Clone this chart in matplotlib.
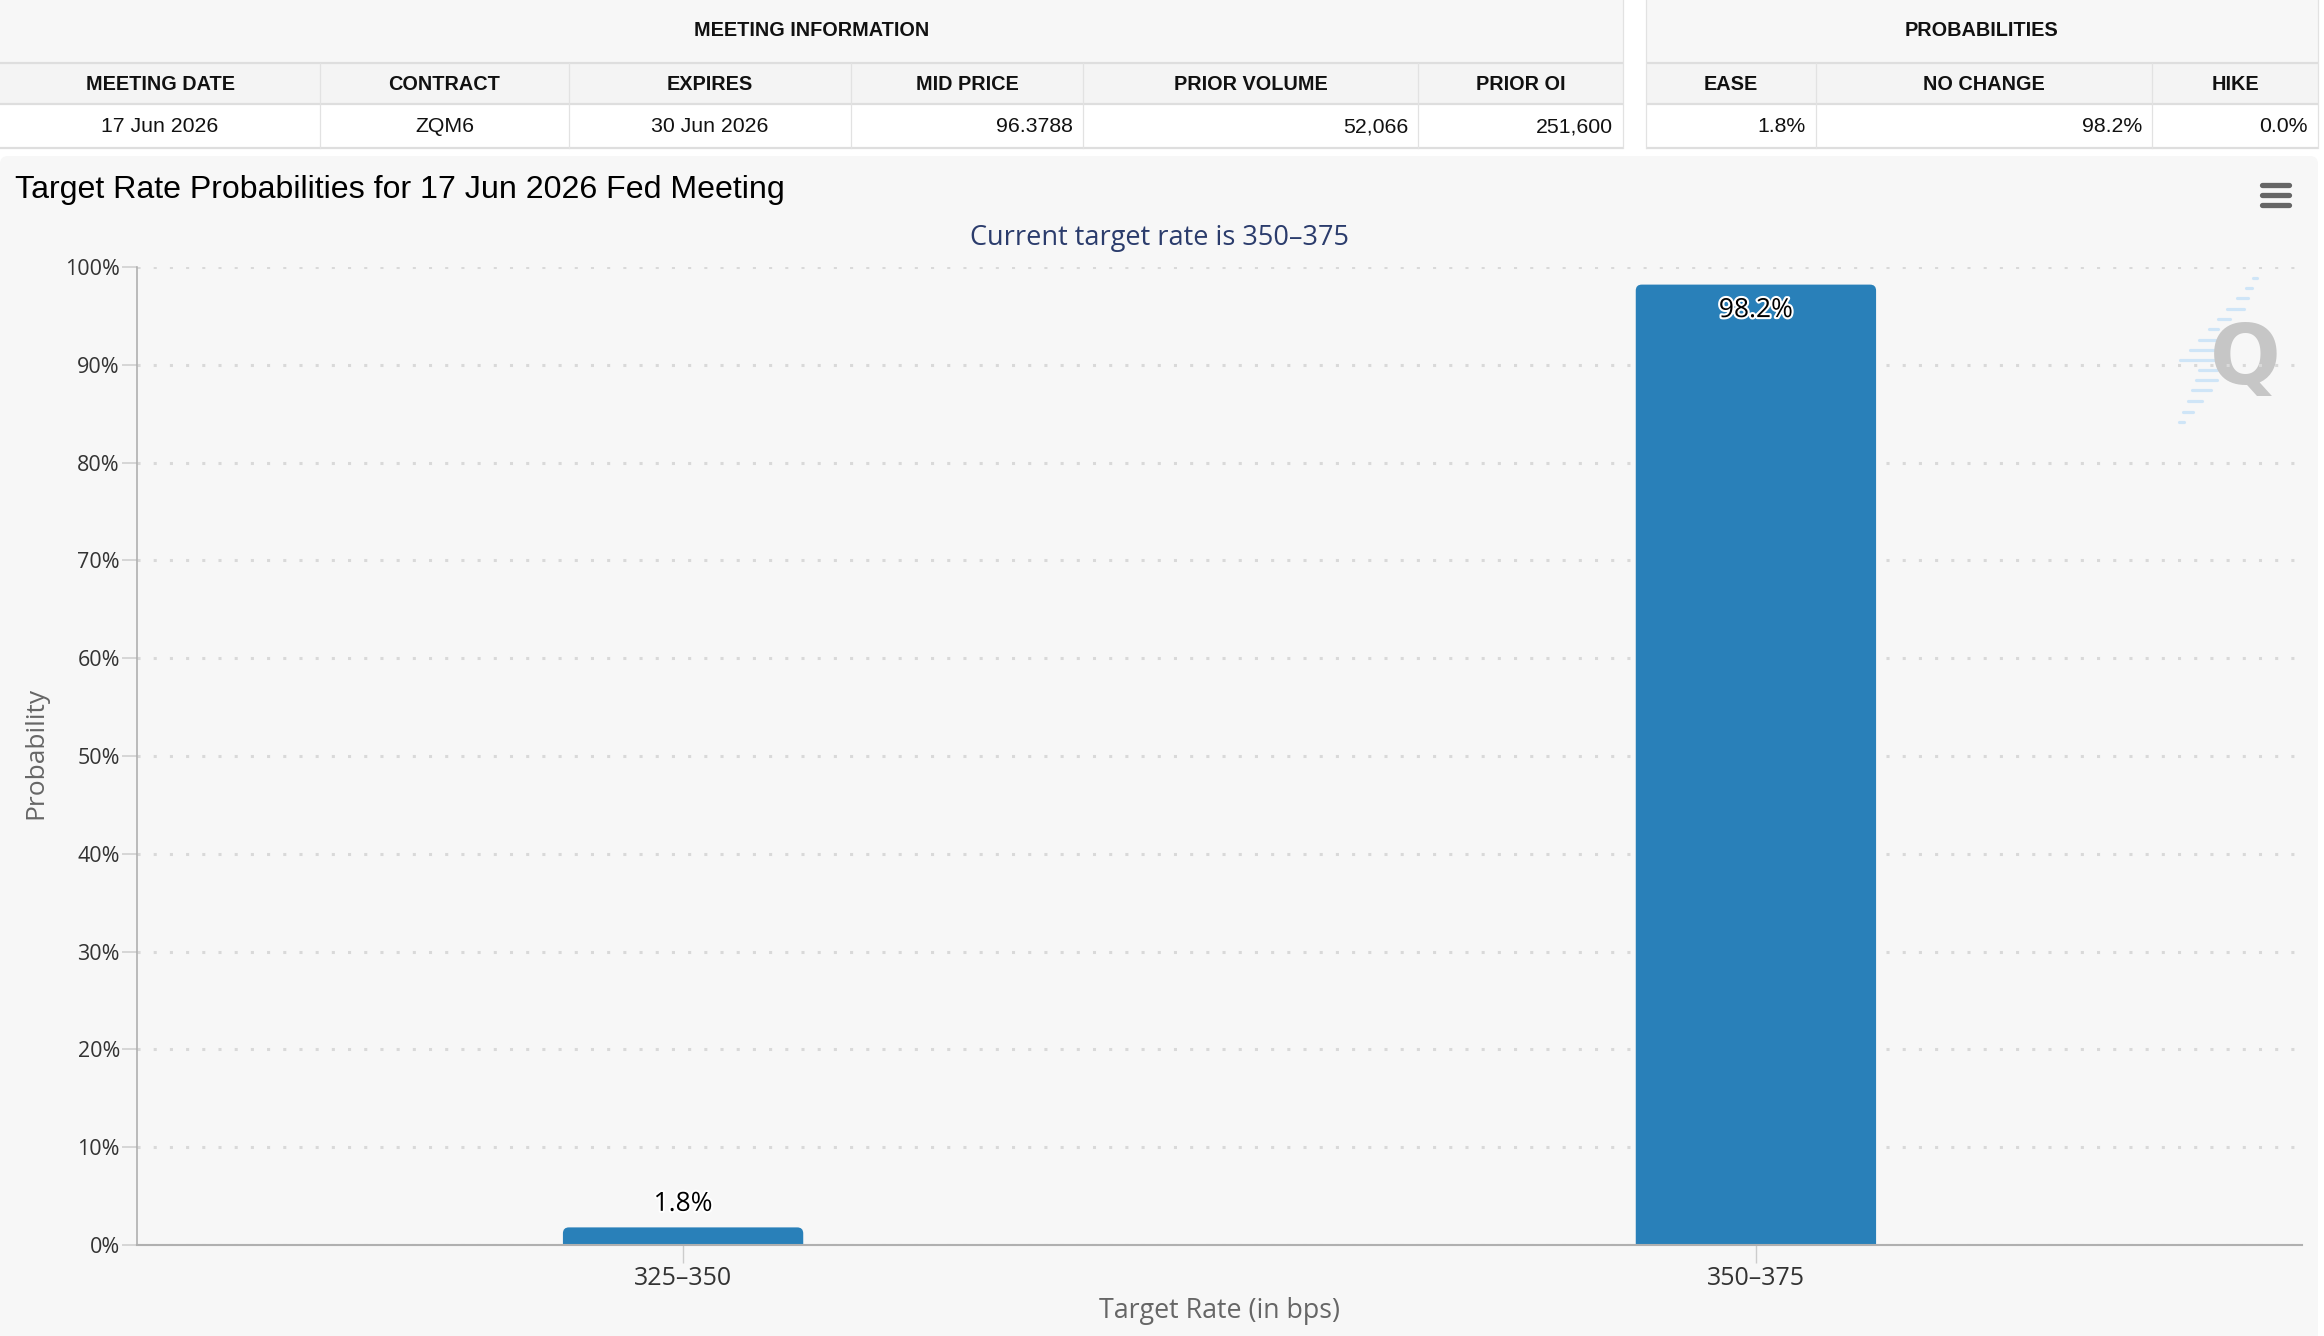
import matplotlib
matplotlib.use("Agg")
import matplotlib.pyplot as plt
import matplotlib.patheffects as pe
from matplotlib.patches import Rectangle, FancyBboxPatch

plt.rcParams['font.family'] = ['Open Sans', 'DejaVu Sans']

# 表格数据
info_title = "MEETING INFORMATION"
info_cols = ["MEETING DATE", "CONTRACT", "EXPIRES", "MID PRICE", "PRIOR VOLUME", "PRIOR OI"]
info_vals = ["17 Jun 2026", "ZQM6", "30 Jun 2026", "96.3788", "52,066", "251,600"]
prob_title = "PROBABILITIES"
prob_cols = ["EASE", "NO CHANGE", "HIKE"]
prob_vals = ["1.8%", "98.2%", "0.0%"]

# 图表数据
meeting = "17 Jun 2026"
current_rate = "350–375"
rates = ["325–350", "350–375"]
probs = [1.8, 98.2]

W, H = 2324, 1336
fig = plt.figure(figsize=(W / 100, H / 100), dpi=100)
fig.patch.set_facecolor('white')

# 背景层，用像素坐标画表格和装饰
bg = fig.add_axes([0, 0, 1, 1], zorder=0)
bg.set_xlim(0, W)
bg.set_ylim(H, 0)
bg.axis('off')

TF = 'Liberation Sans'


def draw_table(edges, title, cols, vals, aligns, left_border=True):
    x0, x1 = edges[0], edges[-1]
    bg.add_patch(Rectangle((x0, 0), x1 - x0, 63, fc='#f7f7f7', ec='none'))
    bg.add_patch(Rectangle((x0, 63), x1 - x0, 41, fc='#f4f4f4', ec='none'))
    bg.add_patch(Rectangle((x0, 104), x1 - x0, 44, fc='white', ec='none'))
    for y in [63, 104, 148]:
        bg.plot([x0, x1], [y, y], color='#dedede', lw=1.6, solid_capstyle='butt')
    for i, e in enumerate(edges):
        if i == 0 and not left_border:
            continue
        top = 0 if i in (0, len(edges) - 1) else 63
        bg.plot([e, e], [top, 148], color='#e2e2e2', lw=0.9)
    bg.text((x0 + x1) / 2, 31, title, ha='center', va='center', family=TF,
            fontsize=14.3, fontweight='bold', color='#111111')
    for i, (c, v) in enumerate(zip(cols, vals)):
        a, b = edges[i], edges[i + 1]
        bg.text((a + b) / 2, 84, c, ha='center', va='center', family=TF,
                fontsize=14.3, fontweight='bold', color='#111111')
        if aligns[i] == 'center':
            bg.text((a + b) / 2, 127, v, ha='center', va='center', family=TF,
                    fontsize=15.3, color='#111111')
        else:
            bg.text(b - 10, 127, v, ha='right', va='center', family=TF,
                    fontsize=15.3, color='#111111')


draw_table([0, 320, 569, 851, 1083, 1418, 1623], info_title, info_cols, info_vals,
           ['center', 'center', 'center', 'right', 'right', 'right'], left_border=False)
draw_table([1646, 1816, 2152, 2318], prob_title, prob_cols, prob_vals,
           ['right', 'right', 'right'])

# 图表底板
bg.add_patch(FancyBboxPatch((0, 156), 2318, H - 156 + 30,
                            boxstyle='round,pad=0,rounding_size=8',
                            fc='#f7f7f7', ec='none'))

bg.text(15, 190, f"Target Rate Probabilities for {meeting} Fed Meeting",
        ha='left', va='center', family=TF, fontsize=23.1, color='black')
bg.text(1159, 238, f"Current target rate is {current_rate}", ha='center',
        va='center', fontsize=19.5, color='#2b3c6c')

# 菜单按钮
for y in [185, 195, 205]:
    bg.plot([2262, 2289], [y, y], color='#666666', lw=3.8, solid_capstyle='round')

# 水印
dashes = [(2253, 2257, 278), (2246, 2252, 288), (2237, 2248, 298), (2227, 2244, 309),
          (2218, 2230, 319), (2209, 2218, 329), (2199, 2217, 340), (2190, 2217, 350),
          (2180, 2218, 360), (2199, 2217, 370), (2196, 2217, 380), (2192, 2211, 390),
          (2188, 2202, 401), (2183, 2193, 412), (2179, 2184, 422)]
for xa, xb, y in dashes:
    bg.plot([xa, xb], [y, y], color='#cfe5f7', lw=2.3, solid_capstyle='round')
bg.text(2245, 360, "Q", ha='center', va='center', fontsize=60, fontweight='bold',
        family='DejaVu Sans', color='#c6c6c6')

# 主图
ax_w, ax_h = 2165, 978
ax = fig.add_axes([137 / W, (H - 1245) / H, ax_w / W, ax_h / H], zorder=1)
ax.set_facecolor('none')
x = list(range(len(rates)))
bars = ax.bar(x, probs, width=0.224, color='#2980b9', zorder=3)
ax.set_xlim(-0.509, len(rates) - 1 + 0.509)
ax.set_ylim(0, 100)

# 柱子顶部圆角：用圆角框替换原矩形，底部延伸到0以下被裁掉
xr = ax.get_xlim()[1] - ax.get_xlim()[0]
yr = ax.get_ylim()[1] - ax.get_ylim()[0]
aspect = (yr / ax_h) / (xr / ax_w)
rad = 6 * xr / ax_w
for b in bars:
    b.set_visible(False)
    bottom = b.get_y() - rad * aspect
    ax.add_patch(FancyBboxPatch((b.get_x(), bottom), b.get_width(), b.get_height() + rad * aspect,
                                boxstyle=f'round,pad=0,rounding_size={rad}',
                                mutation_aspect=aspect, fc='#2980b9', ec='none', zorder=3))

yt = list(range(0, 101, 10))
ax.set_yticks(yt)
ax.set_yticklabels([f"{v}%" for v in yt])
ax.set_xticks(x)
ax.set_xticklabels(rates)

ax.grid(axis='y', color='#d9d9d9', lw=2.2, ls=(0, (1, 4.3)))
ax.set_axisbelow(True)

for s in ['top', 'right']:
    ax.spines[s].set_visible(False)
ax.spines['left'].set_color('#aaaaaa')
ax.spines['left'].set_linewidth(1.1)
ax.spines['bottom'].set_color('#b0b0b0')
ax.spines['bottom'].set_linewidth(1.5)
ax.spines['bottom'].set_zorder(4)

ax.tick_params(axis='y', length=10.8, width=1.1, color='#cccccc', pad=1.5,
               labelsize=15.5, labelcolor='#333333')
ax.tick_params(axis='x', length=13, width=1.0, color='#cccccc', pad=2,
               labelsize=18, labelcolor='#333333')

for b, p in zip(bars, probs):
    cx = b.get_x() + b.get_width() / 2
    off = -18.7 if p > 90 else 16.6
    ax.annotate(f"{p}%", (cx, p), xytext=(0, off), textcoords='offset points',
                ha='center', va='center', fontsize=19, color='black', zorder=5,
                path_effects=[pe.withStroke(linewidth=3, foreground='white')])

ax.set_xlabel("Target Rate (in bps)", fontsize=19.3, color='#666666')
ax.xaxis.set_label_coords(0.4998, -0.0675)
ax.xaxis.label.set_va('center')
ax.set_ylabel("Probability", fontsize=19, color='#666666')
ax.yaxis.set_label_coords(-0.0467, 0.503)
ax.yaxis.label.set_va('center')

fig.savefig("out.png", dpi=100, facecolor=fig.get_facecolor())
